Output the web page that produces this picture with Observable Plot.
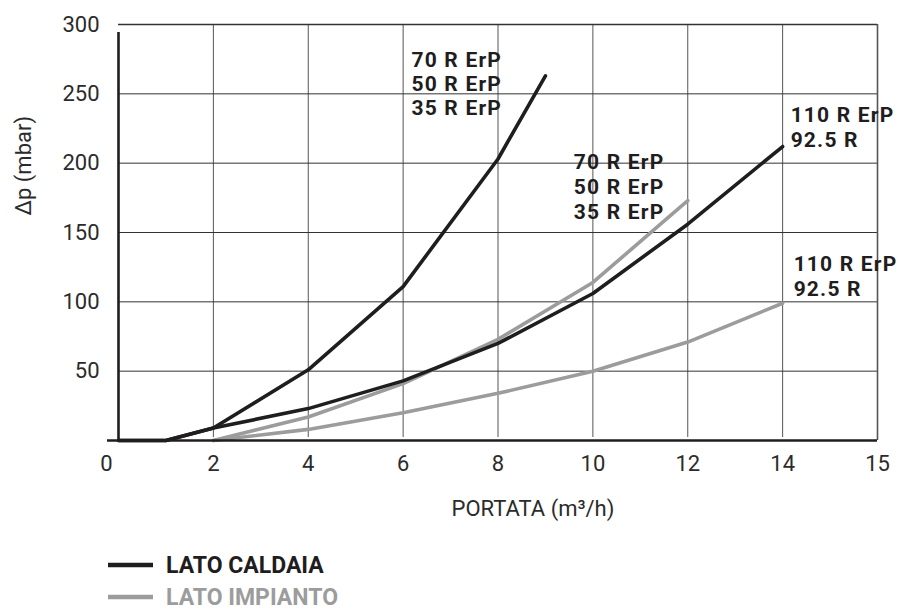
<!DOCTYPE html>
<html>
<head>
<meta charset="utf-8">
<script src="https://cdn.jsdelivr.net/npm/d3@7"></script>
<script src="https://cdn.jsdelivr.net/npm/@observablehq/plot@0.6"></script>
<style>
  html, body { margin: 0; padding: 0; background: #fff; }
  #wrap { width: 902px; font-family: Roboto, "Noto Sans", sans-serif; }
  .legend { position: relative; height: 64px; margin-top: 9px; }
  .item { position: absolute; left: 108px; height: 32px; display: flex; align-items: center; font-weight: bold; font-size: 23px; }
  .item svg { margin-right: 13px; }
</style>
</head>
<body>
<div id="wrap"></div>
<script>
// ---- data ----
const xTicks = [0, 2, 4, 6, 8, 10, 12, 14, 16];
const xTickLabels = ["0", "2", "4", "6", "8", "10", "12", "14", "15"];
const yTicks = [50, 100, 150, 200, 250, 300];

// LATO CALDAIA (black)
const flowCaldaia70 = [0, 1, 2, 4, 6, 8, 9];
const dpCaldaia70 = [0, 0, 9, 51, 111, 203, 263];
const flowCaldaia110 = [0, 1, 2, 4, 6, 8, 10, 12, 14];
const dpCaldaia110 = [0, 0, 9, 23, 43, 70, 106, 156, 212];

// LATO IMPIANTO (grey)
const flowImpianto70 = [2, 4, 6, 8, 10, 12];
const dpImpianto70 = [0, 17, 41, 73, 114, 173];
const flowImpianto110 = [2, 4, 6, 8, 10, 12, 14];
const dpImpianto110 = [0, 8, 20, 34, 50, 71, 99];

const label70 = "70 R ErP\n50 R ErP\n35 R ErP";
const label110 = "110 R ErP\n92.5 R";
const legendNames = ["LATO CALDAIA", "LATO IMPIANTO"];

const BLACK = "#1f1d1e";
const GREY = "#9c9c9c";

const toPts = (xs, ys) => xs.map((x, i) => ({x, y: ys[i]}));
const c70 = toPts(flowCaldaia70, dpCaldaia70);
const c110 = toPts(flowCaldaia110, dpCaldaia110);
const i70 = toPts(flowImpianto70, dpImpianto70);
const i110 = toPts(flowImpianto110, dpImpianto110);
const last = a => [a[a.length - 1]];

const lbl = (data, text, dx, dy, lh) => Plot.text(data, {
  x: "x", y: "y", text: () => text, textAnchor: "start", lineAnchor: "top",
  dx, dy, lineHeight: lh, fontSize: 21, fontWeight: "bold", fill: BLACK
});

const plot = Plot.plot({
  width: 902,
  height: 540,
  marginTop: 24,
  marginBottom: 100,
  marginLeft: 118,
  marginRight: 25,
  style: {fontFamily: "Roboto, 'Noto Sans', sans-serif", fontSize: "22px", color: "#2b2b2b", background: "#fff"},
  x: {domain: [0, 16]},
  y: {domain: [0, 300]},
  marks: [
    // grid
    Plot.ruleX(xTicks.filter(d => d > 0 && d < 16), {y1: 0, y2: 300, stroke: "#555", strokeWidth: 1, insetTop: -3}),
    Plot.ruleY(yTicks.filter(d => d < 300), {x1: 0, x2: 16, stroke: "#333", strokeWidth: 1}),
    Plot.ruleY([300], {x1: 0, x2: 16, stroke: "#333", strokeWidth: 1.3}),
    Plot.ruleX([16], {y1: 0, y2: 300, stroke: "#555", strokeWidth: 1.6}),
    // axes
    Plot.axisY(yTicks, {tickSize: 0, tickPadding: 19, fontSize: 22, label: null, fill: "#2b2b2b"}),
    Plot.axisX(xTicks.filter(d => d > 0), {tickSize: 0, tickPadding: 15, fontSize: 22, label: null,
      tickFormat: d => xTickLabels[xTicks.indexOf(d)], fill: "#2b2b2b"}),
    Plot.text([xTicks[0]], {x: d => d, frameAnchor: "bottom", text: () => xTickLabels[0], dx: -12, dy: 15, lineAnchor: "top", fontSize: 22, fill: "#2b2b2b"}),
    // curves
    Plot.line(i110, {x: "x", y: "y", stroke: GREY, strokeWidth: 3.6}),
    Plot.line(i70, {x: "x", y: "y", stroke: GREY, strokeWidth: 3.6}),
    Plot.line(c110, {x: "x", y: "y", stroke: BLACK, strokeWidth: 3.6}),
    Plot.line(c70, {x: "x", y: "y", stroke: BLACK, strokeWidth: 3.6}),
    // axis lines
    Plot.ruleY([0], {x1: 0, x2: 16, stroke: BLACK, strokeWidth: 2.6, insetLeft: -11}),
    Plot.ruleX([0], {y1: 0, y2: 300, stroke: BLACK, strokeWidth: 2.6, insetBottom: -8}),
    // labels anchored at curve ends
    lbl(last(c70), label70, -134, -26, 1.15),
    lbl(last(i70), label70, -114, -49, 1.19),
    lbl(last(c110), label110, 8, -42, 1.19),
    lbl(last(i110), label110, 11, -49, 1.15),
    // axis titles
    Plot.text(["PORTATA (m³/h)"], {frameAnchor: "bottom", text: d => d, dx: 35, dy: 68, lineAnchor: "middle", fontSize: 22, fill: "#2b2b2b"}),
    Plot.text(["Δp (mbar)"], {frameAnchor: "left", text: d => d, rotate: -90, dx: -95, dy: -17, lineAnchor: "middle", fontSize: 22, fill: "#2b2b2b"})
  ]
});

d3.select(plot).selectAll('g[font-weight="bold"]').attr("letter-spacing", "1.2px");

const wrap = document.getElementById("wrap");
wrap.appendChild(plot);

const legend = document.createElement("div");
legend.className = "legend";
[BLACK, GREY].forEach((col, i) => {
  const it = document.createElement("div");
  it.className = "item";
  it.style.top = (i * 32) + "px";
  it.style.color = col;
  it.innerHTML = `<svg width="45" height="6"><line x1="0" x2="45" y1="3" y2="3" stroke="${col}" stroke-width="4.5"/></svg><span>${legendNames[i]}</span>`;
  legend.appendChild(it);
});
wrap.appendChild(legend);
</script>
</body>
</html>
